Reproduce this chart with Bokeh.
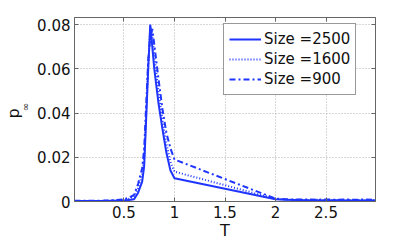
from bokeh.plotting import figure
from bokeh.models import FixedTicker, LinearAxis, Range1d
from bokeh.embed import file_html
from bokeh.resources import INLINE

# ---- data ----
T = [0.01, 0.1, 0.2, 0.3, 0.4, 0.5, 0.55, 0.6, 0.64, 0.68, 0.70, 0.72, 0.74, 0.76, 0.78,
     0.80, 0.84, 0.88, 0.92, 0.96, 1.0, 2.0, 2.1, 2.2, 2.3, 2.4, 2.5, 2.6, 2.7, 2.8, 2.9, 2.99]
p2500 = [0.0002, 0.0002, 0.0002, 0.0002, 0.0003, 0.0004, 0.0007, 0.001, 0.004, 0.009, 0.016, 0.038, 0.060, 0.080, 0.070,
         0.060, 0.045, 0.033, 0.022, 0.014, 0.0105, 0.001, 0.0008, 0.0007, 0.0006, 0.0006, 0.0005, 0.0006, 0.0005, 0.0005, 0.0004, 0.0005]
p1600 = [0.0002, 0.0002, 0.0002, 0.0003, 0.0004, 0.0006, 0.0012, 0.002, 0.006, 0.012, 0.020, 0.040, 0.062, 0.079, 0.075,
         0.066, 0.050, 0.037, 0.026, 0.018, 0.0135, 0.0012, 0.0009, 0.0008, 0.0007, 0.0008, 0.0006, 0.0007, 0.0006, 0.0007, 0.0006, 0.0007]
p900 = [0.0003, 0.0003, 0.0003, 0.0004, 0.0006, 0.0009, 0.0018, 0.003, 0.008, 0.015, 0.024, 0.044, 0.064, 0.074, 0.078,
        0.071, 0.056, 0.042, 0.031, 0.024, 0.019, 0.0013, 0.0010, 0.0009, 0.0009, 0.0008, 0.0009, 0.0008, 0.0009, 0.0008, 0.0009, 0.0008]
series_labels = ["Size =2500", "Size =1600", "Size =900"]
x_ticks = [0.5, 1.0, 1.5, 2.0, 2.5]
x_tick_labels = ["0.5", "1", "1.5", "2", "2.5"]
y_ticks = [0.0, 0.02, 0.04, 0.06, 0.08]
y_tick_labels = ["0", "0.02", "0.04", "0.06", "0.08"]

FONT = "DejaVu Sans"
AX = "#666666"
BLUE = "#1f35ff"

p = figure(width=415, height=242, output_backend="svg", toolbar_location=None,
           x_range=Range1d(0.01, 2.99), y_range=Range1d(0, 0.0832),
           min_border_left=73, min_border_right=40, min_border_top=17, min_border_bottom=35)
p.background_fill_color = "white"
p.border_fill_color = "white"
p.outline_line_color = AX
p.outline_line_width = 1

p.line(T, p2500, line_color=BLUE, line_width=2, legend_label=series_labels[0])
p.line(T, p1600, line_color=BLUE, line_width=2, line_dash="1 2", legend_label=series_labels[1])
p.line(T, p900, line_color=BLUE, line_width=2, line_dash="6 3 2 3", legend_label=series_labels[2])

xt = FixedTicker(ticks=x_ticks, minor_ticks=[])
yt = FixedTicker(ticks=y_ticks, minor_ticks=[])

for ax, ticks, labels in ((p.xaxis[0], x_ticks, x_tick_labels), (p.yaxis[0], y_ticks, y_tick_labels)):
    ax.ticker = FixedTicker(ticks=ticks, minor_ticks=[])
    ax.major_label_overrides = {t: l for t, l in zip(ticks, labels)}
    ax.major_tick_in = 4
    ax.major_tick_out = 0
    ax.minor_tick_in = 0
    ax.minor_tick_out = 0
    ax.axis_line_color = AX
    ax.major_tick_line_color = AX
    ax.major_label_text_font = FONT
    ax.major_label_text_font_size = "15px"
    ax.major_label_text_color = "#111111"
    ax.major_label_standoff = 4

p.xaxis[0].axis_label = "T"
p.xaxis[0].axis_label_text_font = FONT
p.xaxis[0].axis_label_text_font_size = "16px"
p.xaxis[0].axis_label_text_font_style = "normal"
p.xaxis[0].axis_label_text_color = "#111111"
p.xaxis[0].axis_label_standoff = 0

# y label "p" with subscript "∞": the subscript on the main axis, the "p" on an outer axis
ya = p.yaxis[0]
ya.axis_label = "\u2002∞"
ya.axis_label_text_font = FONT
ya.axis_label_text_font_size = "10px"
ya.axis_label_text_font_style = "normal"
ya.axis_label_text_color = "#111111"
ya.axis_label_standoff = 3

outer = LinearAxis(ticker=FixedTicker(ticks=[], minor_ticks=[]), axis_line_color=None,
                   major_tick_out=0, major_tick_in=0, minor_tick_in=0, minor_tick_out=0,
                   major_label_text_font_size="0px", major_label_standoff=0,
                   axis_label="p\u2002", axis_label_text_font=FONT, axis_label_text_font_size="16px",
                   axis_label_text_font_style="normal", axis_label_text_color="#111111",
                   axis_label_standoff=-5)
p.add_layout(outer, "left")

for loc, ticks in (("right", y_ticks), ("above", x_ticks)):
    a = LinearAxis(ticker=FixedTicker(ticks=ticks, minor_ticks=[]),
                   major_label_overrides={t: "" for t in ticks},
                   major_label_text_font_size="0px", major_label_standoff=0,
                   major_tick_in=4, major_tick_out=0, minor_tick_in=0, minor_tick_out=0,
                   axis_line_color=AX, major_tick_line_color=AX)
    p.add_layout(a, loc)

p.xgrid.ticker = xt
p.ygrid.ticker = yt
for g in (p.xgrid[0], p.ygrid[0]):
    g.grid_line_color = "#b0b0b0"
    g.grid_line_dash = "1 2"
    g.grid_line_width = 1

lg = p.legend[0]
lg.location = (149, 106)
lg.label_text_font = FONT
lg.label_text_font_size = "15px"
lg.label_text_color = "#111111"
lg.glyph_width = 32
lg.glyph_height = 20
lg.label_height = 20
lg.spacing = 0
lg.padding = 5
lg.margin = 0
lg.label_standoff = 3
lg.border_line_color = "#333333"
lg.border_line_width = 1
lg.background_fill_alpha = 1

open("out.html", "w").write(file_html(p, INLINE))
